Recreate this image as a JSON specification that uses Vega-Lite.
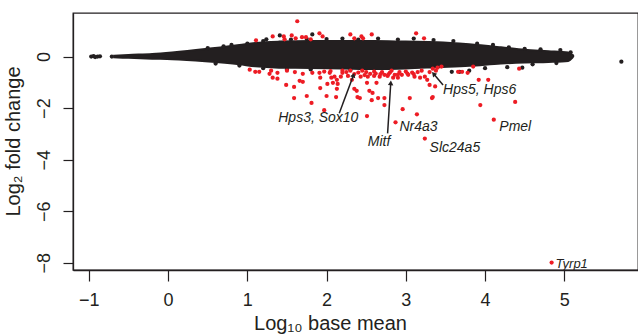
{
  "$schema": "https://vega.github.io/schema/vega-lite/v6.json",
  "width": 565,
  "height": 257,
  "padding": {"left": 73, "top": 13, "right": 0, "bottom": 66},
  "autosize": {"type": "none"},
  "background": "white",
  "view": {"stroke": "#231f20", "strokeWidth": 1.3},
  "config": {
    "axis": {"grid": false, "domainColor": "#231f20", "domainWidth": 1.3, "tickColor": "#231f20", "tickWidth": 1.2, "labelColor": "#231f20", "titleColor": "#231f20", "labelFont": "Liberation Sans", "titleFont": "Liberation Sans", "labelFontSize": 18, "titleFontSize": 20, "titleFontWeight": "normal"}
  },
  "datasets": {
    "cloud": [
      {"x": -0.68, "top": 0.03, "bot": -0.03},
      {"x": -0.5, "top": 0.06, "bot": -0.05},
      {"x": -0.2, "top": 0.1, "bot": -0.08},
      {"x": 0.05, "top": 0.16, "bot": -0.1},
      {"x": 0.47, "top": 0.29, "bot": -0.18},
      {"x": 0.9, "top": 0.45, "bot": -0.3},
      {"x": 1.1, "top": 0.53, "bot": -0.38},
      {"x": 1.4, "top": 0.58, "bot": -0.43},
      {"x": 1.8, "top": 0.6, "bot": -0.44},
      {"x": 2.2, "top": 0.6, "bot": -0.46},
      {"x": 2.6, "top": 0.6, "bot": -0.48},
      {"x": 3.0, "top": 0.58, "bot": -0.46},
      {"x": 3.4, "top": 0.56, "bot": -0.41},
      {"x": 3.8, "top": 0.48, "bot": -0.36},
      {"x": 4.2, "top": 0.36, "bot": -0.27},
      {"x": 4.5, "top": 0.26, "bot": -0.23},
      {"x": 4.8, "top": 0.21, "bot": -0.21},
      {"x": 5.05, "top": 0.16, "bot": -0.17},
      {"x": 5.1, "top": 0.05, "bot": -0.05}
    ],
    "black": [
      {"x": -0.97, "y": 0}, {"x": -0.94, "y": 0.02}, {"x": -0.92, "y": -0.02}, {"x": -0.89, "y": 0}, {"x": -0.86, "y": 0.01}, {"x": -0.71, "y": 0},
      {"x": 0.5, "y": 0.33}, {"x": 0.7, "y": 0.4}, {"x": 0.8, "y": 0.45}, {"x": 1.0, "y": 0.5}, {"x": 1.2, "y": 0.6}, {"x": 1.24, "y": 0.67}, {"x": 1.41, "y": 0.82}, {"x": 1.55, "y": 0.66}, {"x": 1.82, "y": 0.86}, {"x": 1.75, "y": 0.68}, {"x": 2.0, "y": 0.68}, {"x": 2.2, "y": 0.7}, {"x": 2.4, "y": 0.66}, {"x": 2.65, "y": 0.7}, {"x": 2.9, "y": 0.66}, {"x": 3.1, "y": 0.7}, {"x": 3.35, "y": 0.64}, {"x": 3.6, "y": 0.6}, {"x": 3.9, "y": 0.5}, {"x": 4.1, "y": 0.45}, {"x": 4.3, "y": 0.36}, {"x": 4.5, "y": 0.3}, {"x": 4.7, "y": 0.28}, {"x": 4.95, "y": 0.25}, {"x": 5.08, "y": 0.16}, {"x": 5.1, "y": 0.02},
      {"x": 0.6, "y": -0.27}, {"x": 0.9, "y": -0.35}, {"x": 1.2, "y": -0.45}, {"x": 1.5, "y": -0.5}, {"x": 1.8, "y": -0.5}, {"x": 2.3, "y": -0.52}, {"x": 3.58, "y": -0.59}, {"x": 3.68, "y": -0.59}, {"x": 3.8, "y": -0.55}, {"x": 4.0, "y": -0.45}, {"x": 4.28, "y": -0.41}, {"x": 4.47, "y": -0.43}, {"x": 4.6, "y": -0.3}, {"x": 4.9, "y": -0.25}, {"x": 5.72, "y": -0.2}
    ],
    "red": [
      {"x": 1.63, "y": 1.37}, {"x": 1.11, "y": 0.63}, {"x": 1.32, "y": 0.78}, {"x": 1.46, "y": 0.78}, {"x": 1.47, "y": 0.67}, {"x": 1.56, "y": 0.82}, {"x": 1.61, "y": 0.71}, {"x": 1.69, "y": 0.75}, {"x": 1.74, "y": 0.75}, {"x": 1.8, "y": 0.67}, {"x": 1.91, "y": 0.9}, {"x": 1.95, "y": 0.78}, {"x": 2.3, "y": 0.86}, {"x": 2.35, "y": 0.71}, {"x": 2.44, "y": 0.78}, {"x": 2.46, "y": 0.71}, {"x": 2.57, "y": 0.86}, {"x": 3.13, "y": 0.9}, {"x": 3.23, "y": 0.71},
      {"x": 1.03, "y": -0.51}, {"x": 1.1, "y": -0.59}, {"x": 1.15, "y": -0.59}, {"x": 1.28, "y": -0.67}, {"x": 1.32, "y": -0.82}, {"x": 1.38, "y": -0.63}, {"x": 1.38, "y": -0.86}, {"x": 1.49, "y": -1.1}, {"x": 1.59, "y": -1.18}, {"x": 1.66, "y": -0.94}, {"x": 1.7, "y": -0.98}, {"x": 1.7, "y": -0.67}, {"x": 1.75, "y": -1.53}, {"x": 1.59, "y": -1.61}, {"x": 1.81, "y": -1.8}, {"x": 1.82, "y": -0.63}, {"x": 1.91, "y": -0.63}, {"x": 1.92, "y": -0.82}, {"x": 1.92, "y": -1.22}, {"x": 1.97, "y": -2.08}, {"x": 2.0, "y": -1.53}, {"x": 2.01, "y": -1.06}, {"x": 2.04, "y": -0.63}, {"x": 2.06, "y": -0.82}, {"x": 2.08, "y": -1.02}, {"x": 2.1, "y": -0.78}, {"x": 2.13, "y": -0.9}, {"x": 2.13, "y": -1.25},
      {"x": 2.14, "y": -1.06}, {"x": 2.18, "y": -0.78}, {"x": 2.2, "y": -0.63}, {"x": 2.27, "y": -0.75}, {"x": 2.32, "y": -0.9}, {"x": 2.35, "y": -1.25}, {"x": 2.38, "y": -1.33}, {"x": 2.39, "y": -1.57}, {"x": 2.42, "y": -1.61}, {"x": 2.43, "y": -0.78}, {"x": 2.51, "y": -1.02}, {"x": 2.52, "y": -0.78}, {"x": 2.54, "y": -1.33}, {"x": 2.57, "y": -1.69}, {"x": 2.58, "y": -1.41}, {"x": 2.63, "y": -1.02}, {"x": 2.65, "y": -1.61}, {"x": 2.67, "y": -0.78}, {"x": 2.73, "y": -0.71}, {"x": 2.73, "y": -1.61}, {"x": 2.73, "y": -1.88}, {"x": 2.77, "y": -0.75}, {"x": 2.84, "y": -0.82}, {"x": 2.86, "y": -0.71}, {"x": 2.9, "y": -0.82}, {"x": 2.95, "y": -0.71}, {"x": 2.96, "y": -2.04}, {"x": 3.03, "y": -0.71}, {"x": 3.05, "y": -1.61}, {"x": 3.11, "y": -0.78}, {"x": 3.14, "y": -2.24}, {"x": 3.18, "y": -0.82}, {"x": 3.24, "y": -0.78}, {"x": 3.27, "y": -0.9}, {"x": 3.3, "y": -1.1}, {"x": 3.33, "y": -1.61}, {"x": 2.51, "y": -2.31}, {"x": 2.87, "y": -2.55}, {"x": 3.24, "y": -3.18}, {"x": 2.12, "y": -1.57},
      {"x": 3.37, "y": -1.16}, {"x": 3.34, "y": -0.47}, {"x": 3.38, "y": -0.55}, {"x": 3.4, "y": -0.43}, {"x": 3.45, "y": -0.39}, {"x": 3.34, "y": -1.57}, {"x": 3.66, "y": -0.59}, {"x": 3.71, "y": -0.59}, {"x": 3.78, "y": -0.63}, {"x": 3.85, "y": -0.39}, {"x": 3.92, "y": -0.9}, {"x": 3.94, "y": -1.88}, {"x": 4.04, "y": -0.9}, {"x": 4.11, "y": -2.45}, {"x": 4.38, "y": -1.76}, {"x": 4.43, "y": -0.47}, {"x": 4.84, "y": -7.99},
      {"x": 2.2, "y": -0.55}, {"x": 2.25, "y": -0.6}, {"x": 2.3, "y": -0.55}, {"x": 2.4, "y": -0.62}, {"x": 2.45, "y": -0.55}, {"x": 2.5, "y": -0.6}, {"x": 2.6, "y": -0.58}, {"x": 2.62, "y": -0.66}, {"x": 2.7, "y": -0.6}, {"x": 2.8, "y": -0.62}, {"x": 2.82, "y": -0.55}, {"x": 2.92, "y": -0.6}, {"x": 3.0, "y": -0.58}, {"x": 3.08, "y": -0.62}, {"x": 3.15, "y": -0.6}, {"x": 3.2, "y": -0.55}, {"x": 3.3, "y": -0.6}, {"x": 2.55, "y": -0.67}, {"x": 2.35, "y": -0.68}, {"x": 2.68, "y": -0.68}, {"x": 2.78, "y": -0.69}, {"x": 2.9, "y": -0.7}, {"x": 3.02, "y": -0.66}, {"x": 3.1, "y": -0.68}, {"x": 2.48, "y": -0.72}, {"x": 2.6, "y": -0.75}, {"x": 1.5, "y": -0.55}, {"x": 1.6, "y": -0.6}, {"x": 1.97, "y": -0.58}, {"x": 2.05, "y": -0.56}, {"x": 1.3, "y": -0.55}
    ],
    "arrows": [
      {"x": 2.16, "y": -2.2, "x2": 2.34, "y2": -0.72, "angle": 21},
      {"x": 2.77, "y": -2.98, "x2": 2.81, "y2": -1.02, "angle": 4},
      {"x": 3.47, "y": -1.1, "x2": 3.35, "y2": -0.67, "angle": -42}
    ],
    "labels": [
      {"x": 1.39, "y": -2.39, "label": "Hps3, Sox10"},
      {"x": 2.52, "y": -3.33, "label": "Mitf"},
      {"x": 2.92, "y": -2.75, "label": "Nr4a3"},
      {"x": 3.3, "y": -3.53, "label": "Slc24a5"},
      {"x": 3.47, "y": -1.29, "label": "Hps5, Hps6"},
      {"x": 4.18, "y": -2.75, "label": "Pmel"}
    ],
    "small": [
      {"x": 4.89, "y": -8.03, "label": "Tyrp1"}
    ]
  },
  "layer": [
    {
      "mark": {"type": "rule", "strokeDash": [5, 4], "color": "#231f20", "strokeWidth": 1},
      "encoding": {"y": {"datum": 0, "type": "quantitative", "scale": {"domain": [-8.28, 1.69], "nice": false, "zero": false}}}
    },
    {
      "data": {"name": "cloud"},
      "mark": {"type": "area", "color": "#231f20", "interpolate": "monotone", "stroke": "#231f20", "strokeWidth": 2},
      "encoding": {
        "x": {"field": "x", "type": "quantitative", "scale": {"domain": [-1.2, 5.93], "nice": false, "zero": false},
          "axis": {"values": [-1, 0, 1, 2, 3, 4, 5], "format": "d", "title": "Log₁₀ base mean", "tickSize": 11, "labelPadding": 10, "titleX": 257, "titleY": 53, "titleBaseline": "middle", "labelFlush": false}},
        "y": {"field": "top", "type": "quantitative", "scale": {"domain": [-8.28, 1.69], "nice": false, "zero": false},
          "axis": {"values": [0, -2, -4, -6, -8], "format": "d", "title": "Log₂ fold change", "tickSize": 10, "labelAngle": -90, "labelAlign": "center", "labelBaseline": "middle", "labelPadding": 19, "titleX": -60, "titleY": 128, "titleBaseline": "middle", "titleAlign": "center", "titleAngle": -90, "labelFlush": false}},
        "y2": {"field": "bot"}
      }
    },
    {
      "data": {"name": "black"},
      "mark": {"type": "point", "filled": true, "shape": "circle", "size": 18, "color": "#231f20", "opacity": 1},
      "encoding": {"x": {"field": "x", "type": "quantitative"}, "y": {"field": "y", "type": "quantitative"}}
    },
    {
      "data": {"name": "red"},
      "mark": {"type": "point", "filled": true, "shape": "circle", "size": 18, "color": "#ed1c24", "opacity": 1},
      "encoding": {"x": {"field": "x", "type": "quantitative"}, "y": {"field": "y", "type": "quantitative"}}
    },
    {
      "data": {"name": "arrows"},
      "mark": {"type": "rule", "color": "#231f20", "strokeWidth": 1.5},
      "encoding": {"x": {"field": "x", "type": "quantitative"}, "y": {"field": "y", "type": "quantitative"}, "x2": {"field": "x2"}, "y2": {"field": "y2"}}
    },
    {
      "data": {"name": "arrows"},
      "mark": {"type": "point", "filled": true, "shape": "triangle-up", "size": 30, "color": "#231f20", "opacity": 1},
      "encoding": {"x": {"field": "x2", "type": "quantitative"}, "y": {"field": "y2", "type": "quantitative"}, "angle": {"field": "angle", "type": "quantitative", "scale": null}}
    },
    {
      "data": {"name": "labels"},
      "mark": {"type": "text", "align": "left", "baseline": "middle", "font": "Liberation Sans", "fontStyle": "italic", "fontSize": 14, "color": "#231f20"},
      "encoding": {"x": {"field": "x", "type": "quantitative"}, "y": {"field": "y", "type": "quantitative"}, "text": {"field": "label"}}
    },
    {
      "data": {"name": "small"},
      "mark": {"type": "text", "align": "left", "baseline": "middle", "font": "Liberation Sans", "fontStyle": "italic", "fontSize": 13, "color": "#231f20"},
      "encoding": {"x": {"field": "x", "type": "quantitative"}, "y": {"field": "y", "type": "quantitative"}, "text": {"field": "label"}}
    }
  ]
}
